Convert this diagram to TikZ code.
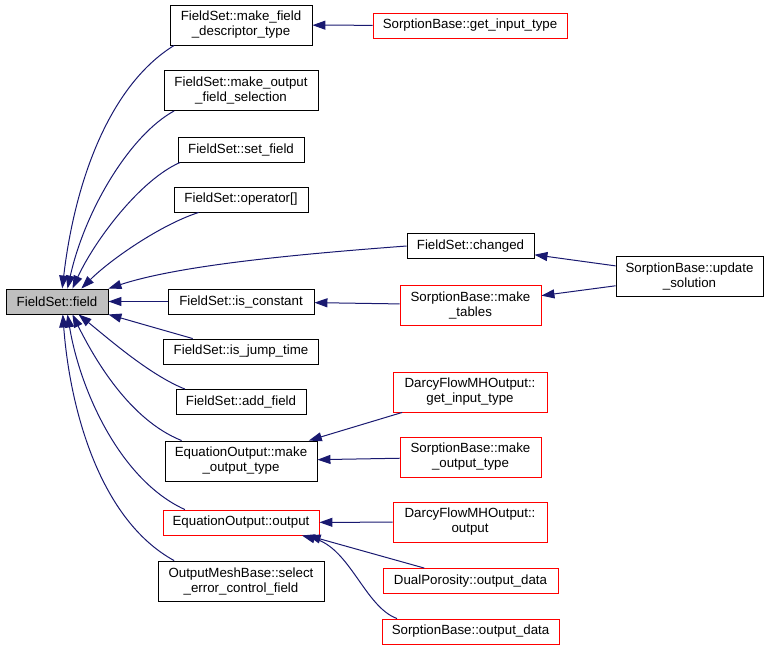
\documentclass[tikz,border=0pt]{standalone}
\usepackage{fontspec}
\setmainfont{Liberation Sans}
\usetikzlibrary{arrows.meta}
\definecolor{edgeblue}{HTML}{191970}
\definecolor{focusgray}{HTML}{BFBFBF}
\tikzset{member/.style = {font=\fontsize{13.3}{15}\selectfont, align=center, draw=black, line width=0.9pt, inner sep=1pt, minimum height=25pt}}
\tikzset{extern/.style = {member, draw=red}}
\tikzset{focus/.style = {member, fill=focusgray}}
\tikzset{twoline/.style = {minimum height=40pt}}
\tikzset{callarrow/.style = {draw=edgeblue, line width=1pt, -{Triangle[length=13pt,width=9pt,fill=edgeblue]}}}

\begin{document}
\begin{tikzpicture}[x=1pt,y=-1pt]
\useasboundingbox (0,0) rectangle (768,651);
% focus node
\node[focus,minimum width=102pt](field) at (57,301.5) {FieldSet::field};
% direct callers
\node[member,twoline,minimum width=142pt](mfdt) at (241,25) {FieldSet::make\_field\\\_descriptor\_type};
\node[member,twoline,minimum width=154pt](mofs) at (241,90.5) {FieldSet::make\_output\\\_field\_selection};
\node[member,minimum width=126pt](setf) at (241,149.5) {FieldSet::set\_field};
\node[member,minimum width=134pt](oper) at (241,199.5) {FieldSet::operator[]};
\node[member,minimum width=127pt](chg) at (470.5,246) {FieldSet::changed};
\node[member,minimum width=146pt](isc) at (241,301.5) {FieldSet::is\_constant};
\node[member,minimum width=155pt](ijt) at (241,351.5) {FieldSet::is\_jump\_time};
\node[member,minimum width=130pt](addf) at (241,402) {FieldSet::add\_field};
\node[member,twoline,minimum width=152pt](emot) at (241,461) {EquationOutput::make\\\_output\_type};
\node[extern,minimum width=156pt](eout) at (241,522.5) {EquationOutput::output};
\node[member,twoline,minimum width=166pt](oms) at (241,581) {OutputMeshBase::select\\\_error\_control\_field};
% second level
\node[extern,minimum width=194pt](sgit) at (470,25.5) {SorptionBase::get\_input\_type};
\node[extern,twoline,minimum width=141pt](mtab) at (470.5,305) {SorptionBase::make\\\_tables};
\node[extern,twoline,minimum width=154pt](dgit) at (470,392) {DarcyFlowMHOutput::\\get\_input\_type};
\node[extern,twoline,minimum width=141pt](smot) at (470.5,457) {SorptionBase::make\\\_output\_type};
\node[extern,twoline,minimum width=154pt](dout) at (470,522) {DarcyFlowMHOutput::\\output};
\node[extern,minimum width=175pt](dpod) at (470.5,581) {DualPorosity::output\_data};
\node[extern,minimum width=177pt](sbod) at (470.5,631.5) {SorptionBase::output\_data};
\node[member,twoline,minimum width=147pt](upd) at (689.5,276) {SorptionBase::update\\\_solution};
% calls into FieldSet::field
\draw[callarrow] (mfdt.-163.6) .. controls (110,85) and (75,180) .. (field.68);
\draw[callarrow] (mofs.-163.3) .. controls (130,135) and (85,210) .. (field.51);
\draw[callarrow] (setf.-168) .. controls (140,180) and (95,240) .. (field.40);
\draw[callarrow] (oper.-163) .. controls (160,225) and (110,260) .. (field.28);
\draw[callarrow] (chg.west) .. controls (300,254) and (180,265) .. (field.north east);
\draw[callarrow] (isc) -- (field);
\draw[callarrow] (ijt.165.4) -- (field.south east);
\draw[callarrow] (addf.167.4) .. controls (150,375) and (110,340) .. (field.-31);
\draw[callarrow] (emot.161.8) .. controls (130,420) and (95,360) .. (field.-40);
\draw[callarrow] (eout.167.8) .. controls (120,480) and (80,390) .. (field.-51);
\draw[callarrow] (oms.163) .. controls (100,520) and (70,410) .. (field.-66);
% second level calls
\draw[callarrow] (sgit) -- (mfdt);
\draw[callarrow] (upd) -- (chg);
\draw[callarrow] (upd) -- (mtab);
\draw[callarrow] (mtab) -- (isc);
\draw[callarrow] (dgit) -- (emot);
\draw[callarrow] (smot) -- (emot);
\draw[callarrow] (dout) -- (eout);
\draw[callarrow] (dpod) -- (eout.-11);
\draw[callarrow] (sbod.170) .. controls (365,607) and (350,548) .. (eout.-12);
\end{tikzpicture}
\end{document}
